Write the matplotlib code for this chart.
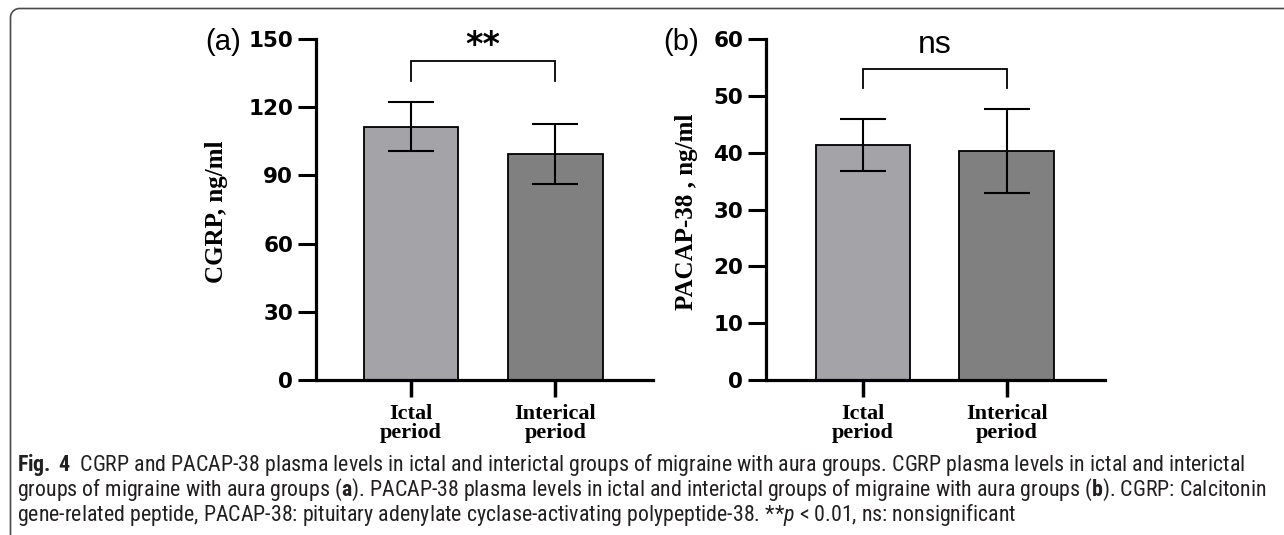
import numpy as np
import matplotlib
matplotlib.use("Agg")
import matplotlib.pyplot as plt
from matplotlib import font_manager as fm
from matplotlib.path import Path
from matplotlib.patches import PathPatch

# ---------------- data ----------------
categories = ["Ictal\nperiod", "Interical\nperiod"]
cgrp_means = [111.5, 99.3]
cgrp_sd = [10.8, 13.3]
cgrp_ticks = [0, 30, 60, 90, 120, 150]
pacap_means = [41.4, 40.3]
pacap_sd = [4.6, 7.4]
pacap_ticks = [0, 10, 20, 30, 40, 50, 60]
sig_a = "**"
sig_b = "ns"
caption_lines = [
    r"$\mathbf{Fig.}$$\mathbf{4}$  CGRP and PACAP-38 plasma levels in ictal and interictal groups of migraine with aura groups. CGRP plasma levels in ictal and interictal",
    r"groups of migraine with aura groups ($\mathbf{a}$). PACAP-38 plasma levels in ictal and interictal groups of migraine with aura groups ($\mathbf{b}$). CGRP: Calcitonin",
    r"gene-related peptide, PACAP-38: pituitary adenylate cyclase-activating polypeptide-38. **$\mathit{p}$ < 0.01, ns: nonsignificant",
]

W, H = 1284, 535
fig = plt.figure(figsize=(W / 100, H / 100), dpi=100)
fig.patch.set_facecolor("white")

bar_colors = ["#a3a3a8", "#808080"]
serif = ["Liberation Serif", "DejaVu Serif"]
tickfont = "DejaVu Sans"


def px(x, y):
    return x / W, 1 - y / H


def make_panel(left, right, means, sds, ticks, ymax, xlim, ylabel, ylab_x, letter, letter_x,
               bracket, sig, sig_y, sig_kw):
    top, bottom = 39, 380
    ax = fig.add_axes([left / W, (H - bottom) / H, (right - left) / W, (bottom - top) / H])
    x = np.arange(len(means))
    ax.bar(x, means, width=0.655, color=bar_colors, edgecolor="black", linewidth=1.3, zorder=2)
    ax.errorbar(x, means, yerr=sds, fmt="none", ecolor="black", elinewidth=1.5,
                capsize=16.5, capthick=1.5, zorder=3)
    ax.set_xlim(*xlim)
    ax.set_ylim(0, ymax)
    ax.set_yticks(ticks)
    ax.set_yticklabels([str(t) for t in ticks], fontfamily=tickfont, fontweight="bold",
                       fontsize=15.5)
    ax.set_xticks(x)
    ax.set_xticklabels(categories, fontfamily=serif, fontweight="bold", fontsize=16,
                       linespacing=0.98)
    for s in ["top", "right"]:
        ax.spines[s].set_visible(False)
    for s in ["left", "bottom"]:
        ax.spines[s].set_linewidth(2.3)
    ax.tick_params(axis="y", length=13, width=2.2, pad=3.5)
    ax.tick_params(axis="x", length=12, width=2.5, pad=5)
    ax.patch.set_alpha(0)
    # bracket
    b_top, b_leg = bracket
    ax.plot([0, 0, 1, 1], [b_leg, b_top, b_top, b_leg], color="black", lw=1.3,
            clip_on=False, solid_joinstyle="miter")
    ax.text(0.5, sig_y, sig, ha="center", va="center", clip_on=False, **sig_kw)
    # y label
    fx, fy = px(ylab_x, 212)
    fig.text(fx, fy, ylabel, rotation=90, ha="center", va="center",
             fontfamily=serif, fontweight="bold", fontsize=18)
    # panel letter
    lx, ly = px(letter_x, 42)
    fig.text(lx, ly, letter, ha="right", va="center", fontfamily="Liberation Sans",
             fontsize=21)
    return ax


make_panel(316, 653, cgrp_means, cgrp_sd, cgrp_ticks, 150, (-0.657, 1.675),
           "CGRP, ng/ml", 217, "(a)", 241, (140.5, 131.7), sig_a, 147.0,
           dict(fontfamily="DejaVu Sans", fontweight="bold", fontsize=24))
make_panel(766, 1105, pacap_means, pacap_sd, pacap_ticks, 60, (-0.672, 1.684),
           "PACAP-38 , ng/ml", 686, "(b)", 699, (54.8, 51.3), sig_b, 58.9,
           dict(fontfamily="Liberation Sans", fontsize=23))

# ---------------- border ----------------
r = 9
theta = np.linspace(np.pi, np.pi / 2, 12)
arc = [(10.5 + r + r * np.cos(t), 8.5 + r - r * np.sin(t)) for t in theta]
pts = [(10.5, H + 2)] + arc + [(W + 2, 8.5)]
verts = [px(a, b) for a, b in pts]
path = Path(verts)
fig.add_artist(PathPatch(path, transform=fig.transFigure, fill=False,
                         edgecolor="#4a4a4a", lw=1.2))

# ---------------- caption ----------------
names = {f.name for f in fm.fontManager.ttflist}
cap_font = "Open Sans"
for cand in ["Liberation Sans Narrow", "Roboto Condensed", "Open Sans Condensed"]:
    if cand in names:
        cap_font = cand
        break
plt.rcParams["mathtext.fontset"] = "custom"
plt.rcParams["mathtext.rm"] = cap_font
plt.rcParams["mathtext.bf"] = cap_font + ":bold"
plt.rcParams["mathtext.it"] = cap_font + ":italic"

# "Fig. 4": add a normal space between the bold pieces
caption_lines[0] = caption_lines[0].replace(r"$\mathbf{Fig.}$$\mathbf{4}$",
                                            r"$\mathbf{Fig.}$ $\mathbf{4}$")

renderer = fig.canvas.get_renderer()
probe = fig.text(0, 0, caption_lines[0], fontfamily=cap_font, fontsize=10)
w10 = probe.get_window_extent(renderer).width
probe.remove()
cap_size = 10 * (1246 - 17) / w10
for i, line in enumerate(caption_lines):
    tx, ty = px(17, 465 + 25 * i)
    fig.text(tx, ty, line, ha="left", va="center", fontfamily=cap_font,
             fontsize=cap_size, color="#231f20")

fig.savefig("out.png", dpi=100)
